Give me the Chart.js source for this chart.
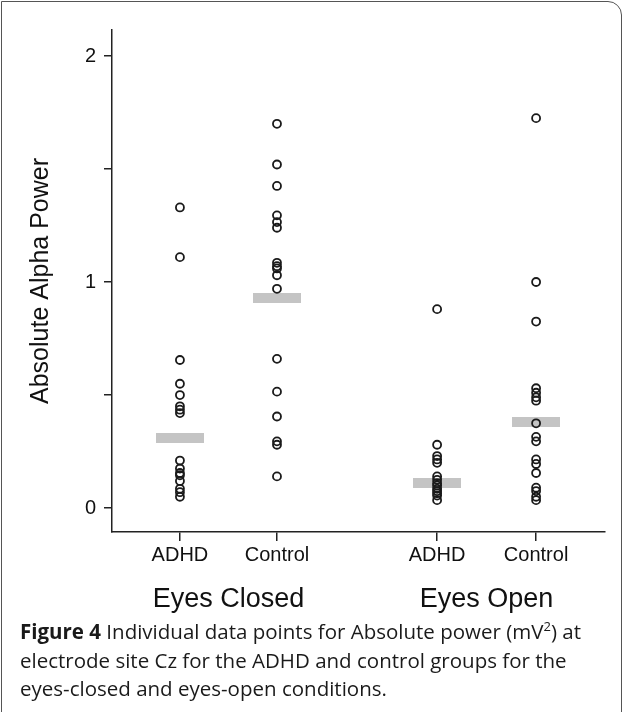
<!DOCTYPE html>
<html>
<head>
<meta charset="utf-8">
<script src="https://cdn.jsdelivr.net/npm/chart.js@4.4.0/dist/chart.umd.min.js"></script>
<style>
body { margin: 0; background: #fff; }
.frame {
    position: absolute; left: 1px; top: 1px;
    width: 619px; height: 740px;
    border: 1.5px solid #555;
    border-top-right-radius: 14px;
}
#chartWrap { position: absolute; left: 0; top: 0; }
.caption {
    position: absolute; left: 20px; top: 617px; width: 592px;
    font-family: "Open Sans", sans-serif; font-size: 20.5px; line-height: 28.7px;
    color: #1a1a1a;
}
.caption b { font-weight: 700; }
</style>
</head>
<body>
<div class="frame"></div>
<div id="chartWrap"><canvas id="myChart" width="625" height="620"></canvas></div>
<div class="caption"><b>Figure 4</b> Individual data points for Absolute power (mV<sup style="font-size:13px;line-height:0">2</sup>) at electrode site Cz for the ADHD and control groups for the eyes-closed and eyes-open conditions.</div>
<script>
const groups = ['ADHD', 'Control', 'ADHD', 'Control'];
const conditions = ['Eyes Closed', 'Eyes Open'];

const adhdClosed = [1.33, 1.11, 0.655, 0.55, 0.50, 0.45, 0.435, 0.42, 0.21, 0.175, 0.155, 0.145, 0.12, 0.085, 0.07, 0.05];
const controlClosed = [1.70, 1.52, 1.425, 1.295, 1.265, 1.24, 1.085, 1.07, 1.06, 1.03, 0.97, 0.66, 0.515, 0.405, 0.295, 0.28, 0.14];
const adhdOpen = [0.88, 0.28, 0.23, 0.215, 0.20, 0.14, 0.125, 0.11, 0.10, 0.085, 0.075, 0.065, 0.055, 0.035];
const controlOpen = [1.725, 1.0, 0.825, 0.53, 0.51, 0.49, 0.475, 0.375, 0.315, 0.295, 0.215, 0.195, 0.155, 0.09, 0.075, 0.05, 0.035];
const groupMeans = [0.31, 0.93, 0.11, 0.38];

const yTicks = [0, 0.5, 1, 1.5, 2];
const yLabels = ['0', '', '1', '', '2'];

// where each group sits along the x axis
const slots = [1, 2, 3.65, 4.67];

// grey mean bar used as point style
const barImg = document.createElement('canvas');
barImg.width = 48;
barImg.height = 10;
let bctx = barImg.getContext('2d');
bctx.fillStyle = '#c4c4c4';
bctx.fillRect(0, 0, 48, 10);

const allPoints = [adhdClosed, controlClosed, adhdOpen, controlOpen];

const pointSets = allPoints.map((vals, i) => ({
    label: groups[i],
    data: vals.map(v => ({x: slots[i], y: v})),
    pointStyle: 'circle',
    pointRadius: 4,
    borderWidth: 1.8,
    borderColor: '#1a1a1a',
    backgroundColor: 'rgba(0,0,0,0)',
    order: 1
}));

const meanSet = {
    label: 'Mean',
    data: groupMeans.map((m, i) => ({x: slots[i], y: m})),
    pointStyle: barImg,
    order: 2
};

const groupLabels = {
    id: 'groupLabels',
    afterDraw(chart) {
        const {ctx, chartArea} = chart;
        const x = chart.scales.x;
        ctx.save();
        ctx.font = '27px "Liberation Sans"';
        ctx.fillStyle = '#111';
        ctx.textAlign = 'center';
        ctx.textBaseline = 'middle';
        conditions.forEach((c, i) => {
            const mid = (x.getPixelForValue(slots[2 * i]) + x.getPixelForValue(slots[2 * i + 1])) / 2;
            ctx.fillText(c, mid, chartArea.bottom + 68);
        });
        ctx.restore();
    }
};

const config = {
    type: 'scatter',
    data: {datasets: [...pointSets, meanSet]},
    options: {
        responsive: false,
        animation: false,
        devicePixelRatio: 1,
        layout: {padding: {left: 26, top: 30, right: 20, bottom: 0}},
        scales: {
            x: {
                type: 'linear',
                min: 0.3,
                max: 5.38,
                afterBuildTicks: (scale) => { scale.ticks = slots.map(v => ({value: v})); },
                afterFit: (scale) => { scale.height = 88; },
                ticks: {
                    callback: (v, i) => groups[i],
                    font: {family: 'Liberation Sans', size: 20},
                    color: '#111',
                    padding: 2,
                    autoSkip: false,
                    maxRotation: 0
                },
                grid: {drawOnChartArea: false, tickLength: 9, color: '#222', lineWidth: 1.5},
                border: {color: '#222', width: 1.5}
            },
            y: {
                min: -0.106,
                max: 2.115,
                afterBuildTicks: (scale) => { scale.ticks = yTicks.map(v => ({value: v})); },
                afterFit: (scale) => { scale.width = 86; },
                ticks: {
                    callback: (v, i) => yLabels[i],
                    font: {family: 'Liberation Sans', size: 20},
                    color: '#111',
                    padding: 8
                },
                grid: {drawOnChartArea: false, tickLength: 8, color: '#222', lineWidth: 1.5},
                border: {color: '#222', width: 1.5},
                title: {
                    display: true,
                    text: 'Absolute Alpha Power',
                    font: {family: 'Liberation Sans', size: 25},
                    color: '#111',
                    padding: 0
                }
            }
        },
        plugins: {
            legend: {display: false},
            tooltip: {enabled: false}
        }
    },
    plugins: [groupLabels]
};

const myChart = new Chart(document.getElementById('myChart'), config);
</script>
</body>
</html>
